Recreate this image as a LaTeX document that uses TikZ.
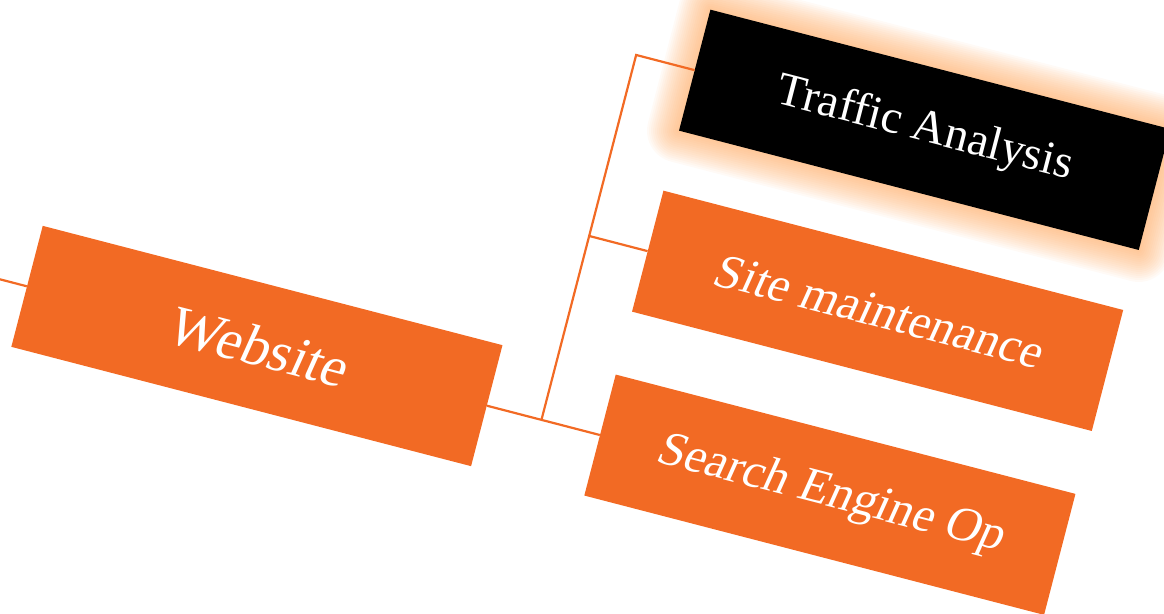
\documentclass[tikz,border=0pt]{standalone}
\usepackage{fontspec}
\setmainfont{Liberation Serif}
\newfontfamily\slfont[FakeSlant=0.17]{Liberation Serif}
\definecolor{brand}{HTML}{F26A24}
\definecolor{glowc}{HTML}{FFA050}
\tikzset{
  box/.style={rectangle, minimum width=475pt, minimum height=125pt, inner sep=0pt,
    fill=brand, text=white, font=\slfont\fontsize{49}{52}\selectfont},
  conn/.style={draw=brand, line width=2.2pt},
  glowline/.style={draw=glowc, opacity=0.05, line join=round}
}
\begin{document}
\begin{tikzpicture}[x=1pt,y=-1pt]
\useasboundingbox (0,0) rectangle (1164,613);
\begin{scope}[shift={(256.9,346)}, rotate=-14.55, transform shape]
  % glow behind the selected node
  \foreach \w in {4,8,...,64}{
    \draw[glowline, line width=\w pt] (354.5,-439.5) rectangle (829.5,-314.5);
  }
  \coordinate (lft) at (-300,0);
  \coordinate (jb) at (294,0);
  \coordinate (jm) at (294,-190);
  \coordinate (jt) at (294,-377);
  \node[box, font=\slfont\fontsize{57}{60}\selectfont] (web) at (0,0) {Website};
  \node[box, fill=black, font=\fontsize{47}{50}\selectfont] (traf) at (592,-377) {Traffic Analysis};
  \node[box] (site) at (592,-190) {Site maintenance};
  \node[box] (seo) at (592,0) {Search Engine Op};
  \draw[conn] (lft) -- (web.west);
  \draw[conn] (web.east) -- (jb) -- (seo.west);
  \draw[conn] (jb) -- (jt) -- (traf.west);
  \draw[conn] (jm) -- (site.west);
\end{scope}
\end{tikzpicture}
\end{document}
